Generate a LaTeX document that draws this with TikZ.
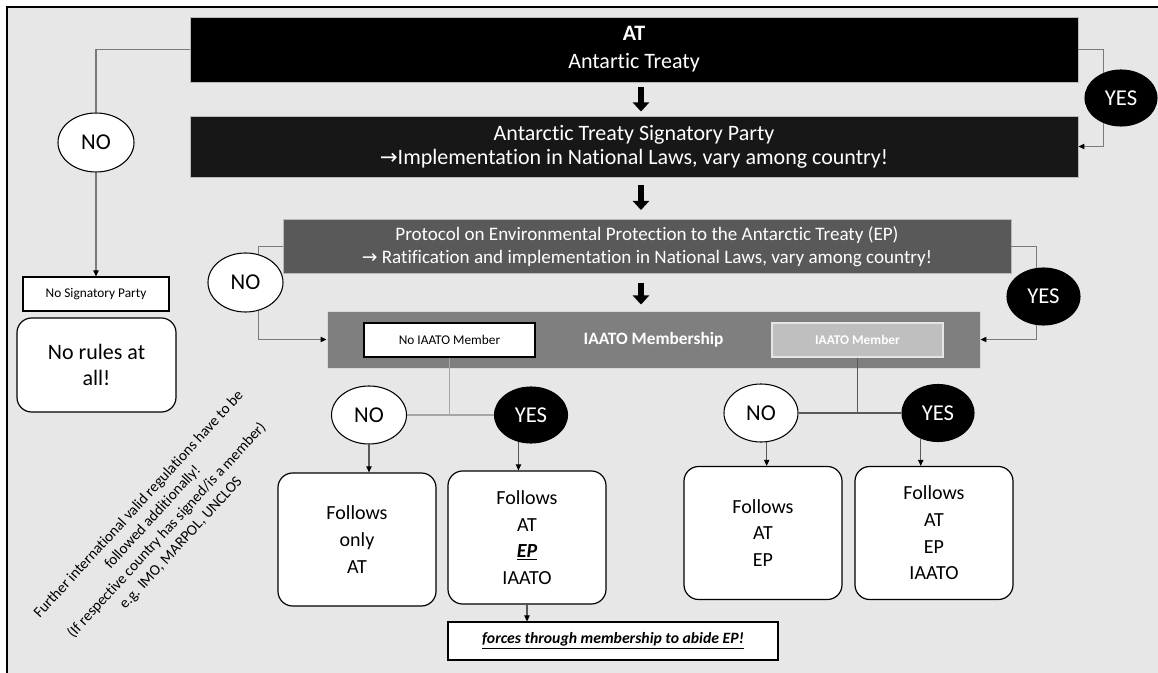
\documentclass[tikz,border=0pt]{standalone}
\usepackage{fontspec}
\setmainfont{Carlito}[RawFeature={-liga;-clig;-calt;-dlig}]
\newfontfamily\symfont{DejaVu Sans}
\usetikzlibrary{shapes.geometric,arrows.meta,calc}
\definecolor{bgc}{HTML}{E7E7E7}
\definecolor{spc}{HTML}{171717}
\definecolor{epc}{HTML}{595959}
\definecolor{iac}{HTML}{7F7F7F}
\definecolor{memc}{HTML}{BFBFBF}
\definecolor{linec}{HTML}{7A7A7A}
\definecolor{linelight}{HTML}{A6A6A6}
\definecolor{linedark}{HTML}{595959}
\begin{document}
\begin{tikzpicture}[x=0.75pt,y=-0.75pt,
  bigbox/.style={rectangle, draw=gray!55, line width=0.7pt, text=white, align=center, inner sep=0pt},
  ellbase/.style={ellipse, inner sep=0pt, line width=0.8pt, font=\fontsize{17}{19}\selectfont},
  noell/.style={ellbase, draw=black, fill=white},
  yesell/.style={ellbase, draw=black, fill=black, text=white},
  result/.style={rectangle, rounded corners=11pt, draw=black, fill=white, line width=0.9pt,
     minimum width=158*0.75pt, minimum height=133*0.75pt, align=center, inner sep=0pt,
     font=\fontsize{15}{20}\selectfont},
  conn/.style={draw=linec, line width=0.8pt},
  arr/.style={conn, -{Triangle[length=4.5pt,width=4pt,color=black]}},
  bigarr/.style={draw=black, line width=4.1pt, -{Triangle[length=6.8pt,width=12pt]}}
]
\useasboundingbox (0,0) rectangle (1158,673);
\fill[bgc] (7,7) rectangle (1158,673);
\draw[line width=1.2pt] (7,673) -- (7,7) -- (1158,7);

% main boxes
\node[bigbox, fill=black, minimum width=888*0.75pt, minimum height=65*0.75pt,
      font=\fontsize{16.5}{21}\selectfont] (at) at (634,49.5)
      {\textbf{AT}\\Antartic Treaty};
\node[bigbox, fill=spc, minimum width=888*0.75pt, minimum height=61*0.75pt,
      font=\fontsize{16.5}{18}\selectfont] (sp) at (634,146.5)
      {Antarctic Treaty Signatory Party\\{\symfont\fontsize{16}{18}\selectfont →}Implementation in National Laws, vary among country!};
\node[bigbox, fill=epc, minimum width=728*0.75pt, minimum height=54*0.75pt,
      font=\fontsize{14.3}{17.5}\selectfont] (ep) at (647,246.5)
      {Protocol on Environmental Protection to the Antarctic Treaty (EP)\\{\symfont\fontsize{14}{17.5}\selectfont →} Ratification and implementation in National Laws, vary among country!};
\node[bigbox, fill=iac, draw=gray!30, minimum width=653*0.75pt, minimum height=57*0.75pt,
      font=\bfseries\fontsize{13}{16}\selectfont] (iaato) at (653.5,339.5) {IAATO Membership};
\node[rectangle, draw=black, fill=white, line width=0.8pt, minimum width=171*0.75pt, minimum height=34*0.75pt,
      inner sep=0pt, font=\fontsize{10}{12}\selectfont] (nomem) at (449.5,340) {No IAATO Member};
\node[rectangle, draw=gray!20, fill=memc, line width=0.8pt, minimum width=171*0.75pt, minimum height=34*0.75pt,
      inner sep=0pt, text=white, font=\bfseries\fontsize{10}{12}\selectfont] (mem) at (857.5,340) {IAATO Member};

% big arrows
\coordinate (ax) at (641,0);
\draw[bigarr] ($(at.south -| ax)+(0,5)$) -- ($(sp.north -| ax)+(0,-4)$);
\draw[bigarr] ($(sp.south -| ax)+(0,8)$) -- ($(ep.north -| ax)+(0,-9)$);
\draw[bigarr] ($(ep.south -| ax)+(0,9)$) -- ($(iaato.north -| ax)+(0,-6)$);

% ellipses
\node[noell, minimum width=76*0.75pt, minimum height=59*0.75pt] (no1) at (96,142.5) {NO};
\node[yesell, minimum width=72*0.75pt, minimum height=56*0.75pt] (yes1) at (1121,98) {YES};
\node[noell, minimum width=75*0.75pt, minimum height=59*0.75pt] (no2) at (245.5,282.5) {NO};
\node[yesell, minimum width=73*0.75pt, minimum height=57*0.75pt] (yes2) at (1043.5,296.5) {YES};
\node[noell, minimum width=75*0.75pt, minimum height=58*0.75pt] (no3) at (369,415) {NO};
\node[yesell, minimum width=73*0.75pt, minimum height=56*0.75pt] (yes3) at (531,415) {YES};
\node[noell, minimum width=74*0.75pt, minimum height=58*0.75pt] (no4) at (761,413) {NO};
\node[yesell, minimum width=72*0.75pt, minimum height=57*0.75pt] (yes4) at (938,413) {YES};

% left column
\node[rectangle, draw=black, fill=white, line width=0.8pt, minimum width=146*0.75pt, minimum height=34*0.75pt,
      inner sep=0pt, font=\fontsize{10}{12}\selectfont] (nosig) at (96,294) {No Signatory Party};
\node[rectangle, rounded corners=11pt, draw=black, fill=white, line width=0.9pt, minimum width=159*0.75pt,
      minimum height=94*0.75pt, inner sep=0pt, align=center, font=\fontsize{16.5}{20}\selectfont]
      (norules) at (96.5,365) {No rules at\\all!};
\node[rotate=47.5, align=center, font=\fontsize{11.4}{14.3}\selectfont] (note) at (160,524)
  {Further international valid regulations have to be\\followed additionally!\\(If respective country has signed/is a member)\\e.g. IMO, MARPOL, UNCLOS};

% results
\node[result] (rA) at (357,539.5) {Follows\\only\\AT};
\node[result] (rB) at (527,537.5) {Follows\\AT\\\underline{\textbf{\textit{EP}}}\\IAATO};
\node[result] (rC) at (763,533) {Follows\\AT\\EP};
\node[result] (rD) at (934,533) {Follows\\AT\\EP\\IAATO};
\node[rectangle, draw=black, fill=white, line width=0.8pt, minimum width=330*0.75pt, minimum height=38*0.75pt,
      inner sep=0pt, font=\fontsize{11.8}{14}\selectfont] (forces) at (613,641)
      {\underline{\textbf{\textit{forces through membership to abide EP!}}}};

% connectors
\draw[conn] (at.west) -| (no1.north);
\draw[arr] (no1.south) -- (nosig.north);
\draw[conn] (at.east) -| (yes1.125);
\draw[arr] (yes1.235) |- (sp.east);
\draw[conn] (ep.west) -| (no2.66);
\draw[arr] (no2.294) |- (iaato.west);
\draw[conn] (ep.east) -| (yes2.104);
\draw[arr] (yes2.256) |- (iaato.east);

\draw[conn, draw=linelight] (nomem.south) -- (nomem.south |- no3.east);
\draw[conn, draw=linelight] (no3.east) -- (yes3.west);
\draw[conn, draw=linedark] (mem.south) -- (mem.south |- no4.east);
\draw[conn, draw=linedark] (no4.east) -- (yes4.west);

\draw[arr, draw=linedark] (no3.south) -- (no3.south |- rA.north);
\draw[arr, draw=linedark] (yes3.245) -- (yes3.245 |- rB.north);
\draw[arr, draw=linedark] (no4.281) -- (no4.281 |- rC.north);
\draw[arr, draw=linedark] (yes4.236) -- (yes4.236 |- rD.north);
\draw[arr, draw=linedark] (rB.south) -- (rB.south |- forces.north);
\end{tikzpicture}
\end{document}
